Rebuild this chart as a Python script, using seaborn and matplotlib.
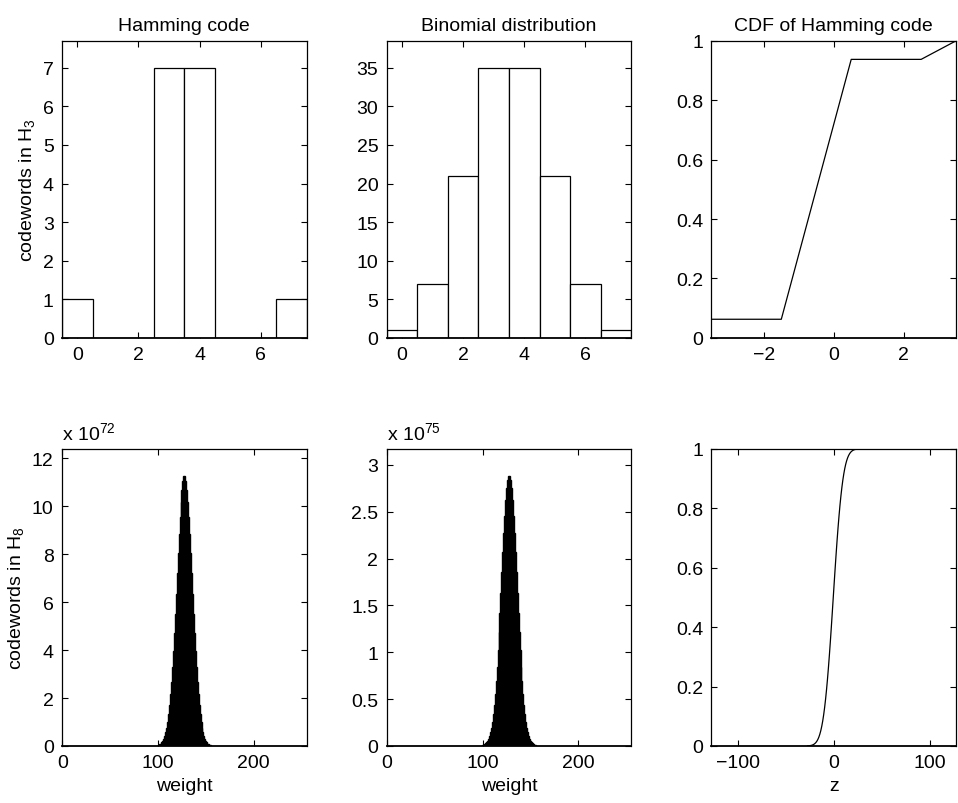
import numpy as np
import pandas as pd
import matplotlib
matplotlib.use('Agg')
import matplotlib.pyplot as plt
from matplotlib.ticker import FuncFormatter
import seaborn as sns

# weight distributions
weights_h3 = [0, 1, 2, 3, 4, 5, 6, 7]
hamming_h3 = [1, 0, 0, 7, 7, 0, 0, 1]
binomial_h3 = [1, 7, 21, 35, 35, 21, 7, 1]

# H_8: only weights ~100..155 are visibly non-zero
weights_h8 = list(range(100, 156))
# codewords in H_8, in units of 1e72
hamming_h8 = [0.03, 0.05, 0.07, 0.10, 0.15, 0.21, 0.30, 0.41, 0.57, 0.76,
              1.01, 1.32, 1.70, 2.15, 2.68, 3.29, 3.97, 4.72, 5.52, 6.35,
              7.20, 8.04, 8.83, 9.56, 10.20, 10.70, 11.05, 11.25,
              11.25, 11.05, 10.70, 10.20, 9.56, 8.83, 8.04, 7.20,
              6.35, 5.52, 4.72, 3.97, 3.29, 2.68, 2.15, 1.70, 1.32, 1.01,
              0.76, 0.57, 0.41, 0.30, 0.21, 0.15, 0.10, 0.07, 0.05, 0.03]
# binomial coefficients C(255, k), in units of 1e75
binomial_h8 = [0.008, 0.013, 0.018, 0.026, 0.039, 0.054, 0.077, 0.105, 0.147, 0.195,
               0.260, 0.339, 0.437, 0.553, 0.689, 0.846, 1.021, 1.214, 1.419, 1.633,
               1.851, 2.067, 2.270, 2.458, 2.620, 2.750, 2.840, 2.885,
               2.885, 2.840, 2.750, 2.620, 2.458, 2.270, 2.067, 1.851,
               1.633, 1.419, 1.214, 1.021, 0.846, 0.689, 0.553, 0.437, 0.339, 0.260,
               0.195, 0.147, 0.105, 0.077, 0.054, 0.039, 0.026, 0.018, 0.013, 0.008]

sns.set_style('ticks')
plt.rcParams['font.family'] = ['Liberation Sans', 'DejaVu Sans']
plt.rcParams['mathtext.default'] = 'regular'
for key in ['text.color', 'axes.labelcolor', 'xtick.color', 'ytick.color', 'axes.edgecolor']:
    plt.rcParams[key] = 'black'
FS = 14

fig, axes = plt.subplots(2, 3, figsize=(9.58, 8.04), dpi=100)
fig.subplots_adjust(left=0.0647, right=0.998, top=0.948, bottom=0.071,
                    wspace=0.327, hspace=0.374)

fmt = FuncFormatter(lambda v, p: ('%g' % v).replace('-', '\u2212'))


def style(ax):
    ax.tick_params(direction='in', top=True, right=True, length=4, width=0.8,
                   labelsize=FS, pad=6, colors='black')
    for s in ax.spines.values():
        s.set_visible(True)
        s.set_linewidth(0.9)
        s.set_color('black')
    ax.spines['bottom'].set_linewidth(1.3)
    ax.xaxis.set_major_formatter(fmt)
    ax.yaxis.set_major_formatter(fmt)
    ax.set_xlabel('')
    ax.set_ylabel('')


# top row: H_3
ax = axes[0, 0]
sns.barplot(x=weights_h3, y=hamming_h3, native_scale=True, width=1, color='white',
            saturation=1, edgecolor='black', linewidth=0.9, errorbar=None, ax=ax)
style(ax)
ax.set_xlim(-0.5, 7.5)
ax.set_ylim(0, 7.7)
ax.set_xticks([0, 2, 4, 6])
ax.set_yticks(range(0, 8))
ax.set_title('Hamming code', fontsize=FS, pad=8)
ax.set_ylabel('codewords in H$_3$', fontsize=FS)

ax = axes[0, 1]
sns.barplot(x=weights_h3, y=binomial_h3, native_scale=True, width=1, color='white',
            saturation=1, edgecolor='black', linewidth=0.9, errorbar=None, ax=ax)
style(ax)
ax.set_xlim(-0.5, 7.5)
ax.set_ylim(0, 38.5)
ax.set_xticks([0, 2, 4, 6])
ax.set_yticks(range(0, 36, 5))
ax.set_title('Binomial distribution', fontsize=FS, pad=8)

ax = axes[0, 2]
cdf_h3 = np.cumsum(hamming_h3) / np.sum(hamming_h3)
z_h3 = np.array(weights_h3) - 3.5
sns.lineplot(x=z_h3, y=cdf_h3, color='black', linewidth=0.9, ax=ax)
style(ax)
ax.set_xlim(-3.5, 3.5)
ax.set_ylim(0, 1)
ax.set_xticks([-2, 0, 2])
ax.set_yticks([0, 0.2, 0.4, 0.6, 0.8, 1])
ax.set_title('CDF of Hamming code', fontsize=FS, pad=8)

# bottom row: H_8
ax = axes[1, 0]
sns.barplot(x=weights_h8, y=hamming_h8, native_scale=True, width=1, color='black',
            saturation=1, edgecolor='black', linewidth=1.0, errorbar=None, ax=ax)
style(ax)
ax.set_xlim(-0.5, 255.5)
ax.set_ylim(0, 12.4)
ax.set_xticks([0, 100, 200])
ax.set_yticks(range(0, 13, 2))
ax.set_ylabel('codewords in H$_8$', fontsize=FS)
ax.set_xlabel('weight', fontsize=FS, labelpad=4)
ax.text(0, 1.02, 'x 10$^{72}$', transform=ax.transAxes, fontsize=FS,
        ha='left', va='bottom')

ax = axes[1, 1]
sns.barplot(x=weights_h8, y=binomial_h8, native_scale=True, width=1, color='black',
            saturation=1, edgecolor='black', linewidth=1.0, errorbar=None, ax=ax)
style(ax)
ax.set_xlim(-0.5, 255.5)
ax.set_ylim(0, 3.17)
ax.set_xticks([0, 100, 200])
ax.set_yticks([0, 0.5, 1, 1.5, 2, 2.5, 3])
ax.set_xlabel('weight', fontsize=FS, labelpad=4)
ax.text(0, 1.02, 'x 10$^{75}$', transform=ax.transAxes, fontsize=FS,
        ha='left', va='bottom')

ax = axes[1, 2]
cdf_h8 = np.cumsum(hamming_h8) / np.sum(hamming_h8)
z_h8 = np.array(weights_h8) - 127.5
sns.lineplot(x=z_h8, y=cdf_h8, color='black', linewidth=0.9, ax=ax)
style(ax)
ax.set_xlim(-127.5, 127.5)
ax.set_ylim(0, 1)
ax.set_xticks([-100, 0, 100])
ax.set_yticks([0, 0.2, 0.4, 0.6, 0.8, 1])
ax.set_xlabel('z', fontsize=FS, labelpad=4)

fig.savefig('out.png', dpi=100)
